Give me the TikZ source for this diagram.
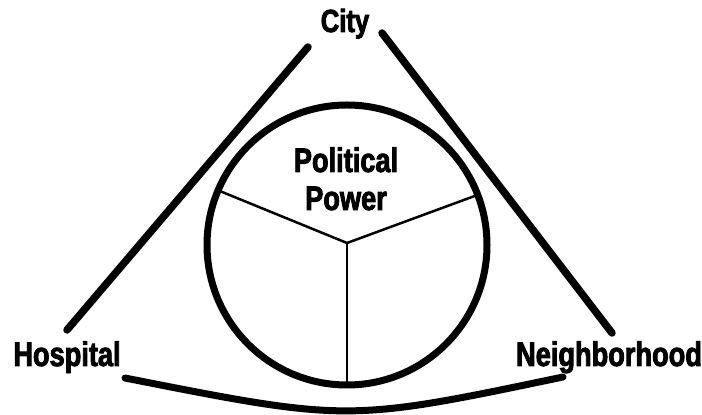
\documentclass[tikz,border=0pt]{standalone}
\usepackage{fontspec}
\newfontfamily\namefont[FakeStretch=0.8, FakeBold=2.5]{Liberation Sans Bold}
\usetikzlibrary{positioning, calc}

\begin{document}
\begin{tikzpicture}[
      x=1pt, y=1pt,
      town/.style={font=\namefont\fontsize{34}{34}\selectfont, anchor=base, inner sep=0pt},
      rim/.style={line width=7.5pt, line cap=round},
      spoke/.style={line width=2.5pt},
    ]
      \useasboundingbox (0,0) rectangle (702,415);

      \node[town, font=\namefont\fontsize{32}{32}\selectfont] (city) at (345, 383) {City};
      \node[town] (hospital) at (67, 49) {Hospital};
      \node[town] (hood) at (609, 49) {Neighborhood};
      \node[town, font=\namefont\fontsize{34}{38}\selectfont, align=center] (power) at (346, 205) {Political\\Power};

      % the ring of political power
      \coordinate (mid) at (347, 170);
      \draw[line width=7pt] (mid) circle (140);
      \coordinate (hub) at (347, 172);
      \draw[spoke] (hub) -- ($(mid)+(157:137)$);
      \draw[spoke] (hub) -- ($(mid)+(21:137)$);
      \draw[spoke] (hub) -- ($(mid)+(270:137)$);

      % the three sides
      \coordinate (cityL) at (308, 368);
      \coordinate (hospT) at (67, 85);
      \coordinate (cityR) at (382, 382);
      \coordinate (hoodT) at (612, 82);
      \coordinate (hospR) at (125, 37);
      \coordinate (hoodL) at (563, 38);

      \draw[rim] (cityL) -- (hospT);
      \draw[rim] (cityR) -- (hoodT);
      \draw[rim, line width=7pt] (hospR) .. controls (348, -7) .. (hoodL);
    \end{tikzpicture}
\end{document}
